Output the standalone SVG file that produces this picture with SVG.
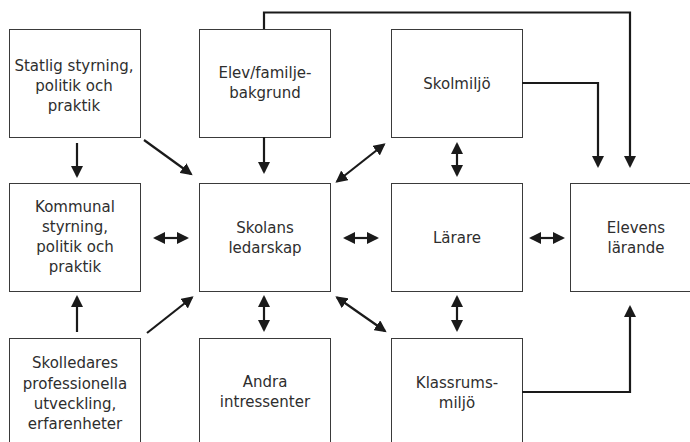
<svg xmlns="http://www.w3.org/2000/svg" width="690" height="442" viewBox="0 0 690 442">
<style>
.box{fill:#fff;stroke:#3a3a3a;stroke-width:1}
.t{font-family:"DejaVu Sans","Liberation Sans",sans-serif;font-size:15px;fill:#2e2e2e;text-anchor:middle}
.c{fill:none;stroke:#1a1a1a;stroke-width:2.2;stroke-linejoin:miter}
.a{marker-end:url(#ah)}
.d{marker-start:url(#ah);marker-end:url(#ah)}
</style>
<defs>
<marker id="ah" markerUnits="userSpaceOnUse" markerWidth="13" markerHeight="12" viewBox="0 0 13 12" refX="10" refY="6" orient="auto-start-reverse">
<path d="M0,0 L12,6 L0,12 z" fill="#1a1a1a"/>
</marker>
</defs>
<rect width="690" height="442" fill="#fff"/>
<g id="statlig"><rect class="box" x="9.5" y="29.5" width="131" height="108"/>
<text class="t" x="74" y="71">Statlig styrning,</text><text class="t" x="74" y="91">politik och</text><text class="t" x="74" y="111">praktik</text></g>
<g id="elev"><rect class="box" x="199.5" y="29.5" width="131" height="108"/>
<text class="t" x="265" y="78">Elev/familje-</text><text class="t" x="265" y="98">bakgrund</text></g>
<g id="skolmiljo"><rect class="box" x="391.5" y="29.5" width="131" height="108"/>
<text class="t" x="457" y="89">Skolmiljö</text></g>
<g id="kommunal"><rect class="box" x="9.5" y="183.5" width="131" height="108"/>
<text class="t" x="75" y="212">Kommunal</text><text class="t" x="75" y="232">styrning,</text><text class="t" x="75" y="252">politik och</text><text class="t" x="75" y="272">praktik</text></g>
<g id="skolans"><rect class="box" x="199.5" y="183.5" width="131" height="108"/>
<text class="t" x="265" y="233">Skolans</text><text class="t" x="265" y="253">ledarskap</text></g>
<g id="larare"><rect class="box" x="391.5" y="183.5" width="131" height="108"/>
<text class="t" x="457" y="243">Lärare</text></g>
<g id="elevens"><rect class="box" x="570.5" y="183.5" width="140" height="108"/>
<text class="t" x="636" y="233">Elevens</text><text class="t" x="636" y="253">lärande</text></g>
<g id="skolledares"><rect class="box" x="9.5" y="338.5" width="131" height="120"/>
<text class="t" x="75" y="368">Skolledares</text><text class="t" x="75" y="389">professionella</text><text class="t" x="75" y="409">utveckling,</text><text class="t" x="75" y="429">erfarenheter</text></g>
<g id="andra"><rect class="box" x="199.5" y="338.5" width="131" height="120"/>
<text class="t" x="265" y="387">Andra</text><text class="t" x="265" y="407">intressenter</text></g>
<g id="klassrum"><rect class="box" x="391.5" y="338.5" width="131" height="120"/>
<text class="t" x="457" y="388">Klassrums-</text><text class="t" x="457" y="408">miljö</text></g>
<g id="connectors">
<polyline class="c a" points="264,29 264,12.5 630,12.5 630,166"/>
<polyline class="c a" points="522,83 598,83 598,166"/>
<polyline class="c a" points="522,392 630,392 630,307"/>
<line class="c a" x1="77" y1="143" x2="77" y2="176"/>
<line class="c a" x1="144" y1="140" x2="191" y2="174"/>
<line class="c a" x1="264" y1="137" x2="264" y2="172"/>
<line class="c d" x1="337" y1="181.5" x2="384" y2="144.5"/>
<line class="c d" x1="457" y1="144" x2="457" y2="175"/>
<line class="c d" x1="155" y1="238" x2="187" y2="238"/>
<line class="c d" x1="345" y1="238" x2="377" y2="238"/>
<line class="c d" x1="531" y1="238" x2="563" y2="238"/>
<line class="c d" x1="264" y1="297" x2="264" y2="330"/>
<line class="c d" x1="457" y1="297" x2="457" y2="330"/>
<line class="c a" x1="77" y1="332" x2="77" y2="297"/>
<line class="c a" x1="147" y1="333" x2="192" y2="297.5"/>
<line class="c d" x1="337" y1="297.5" x2="385" y2="331"/>
</g>
</svg>
